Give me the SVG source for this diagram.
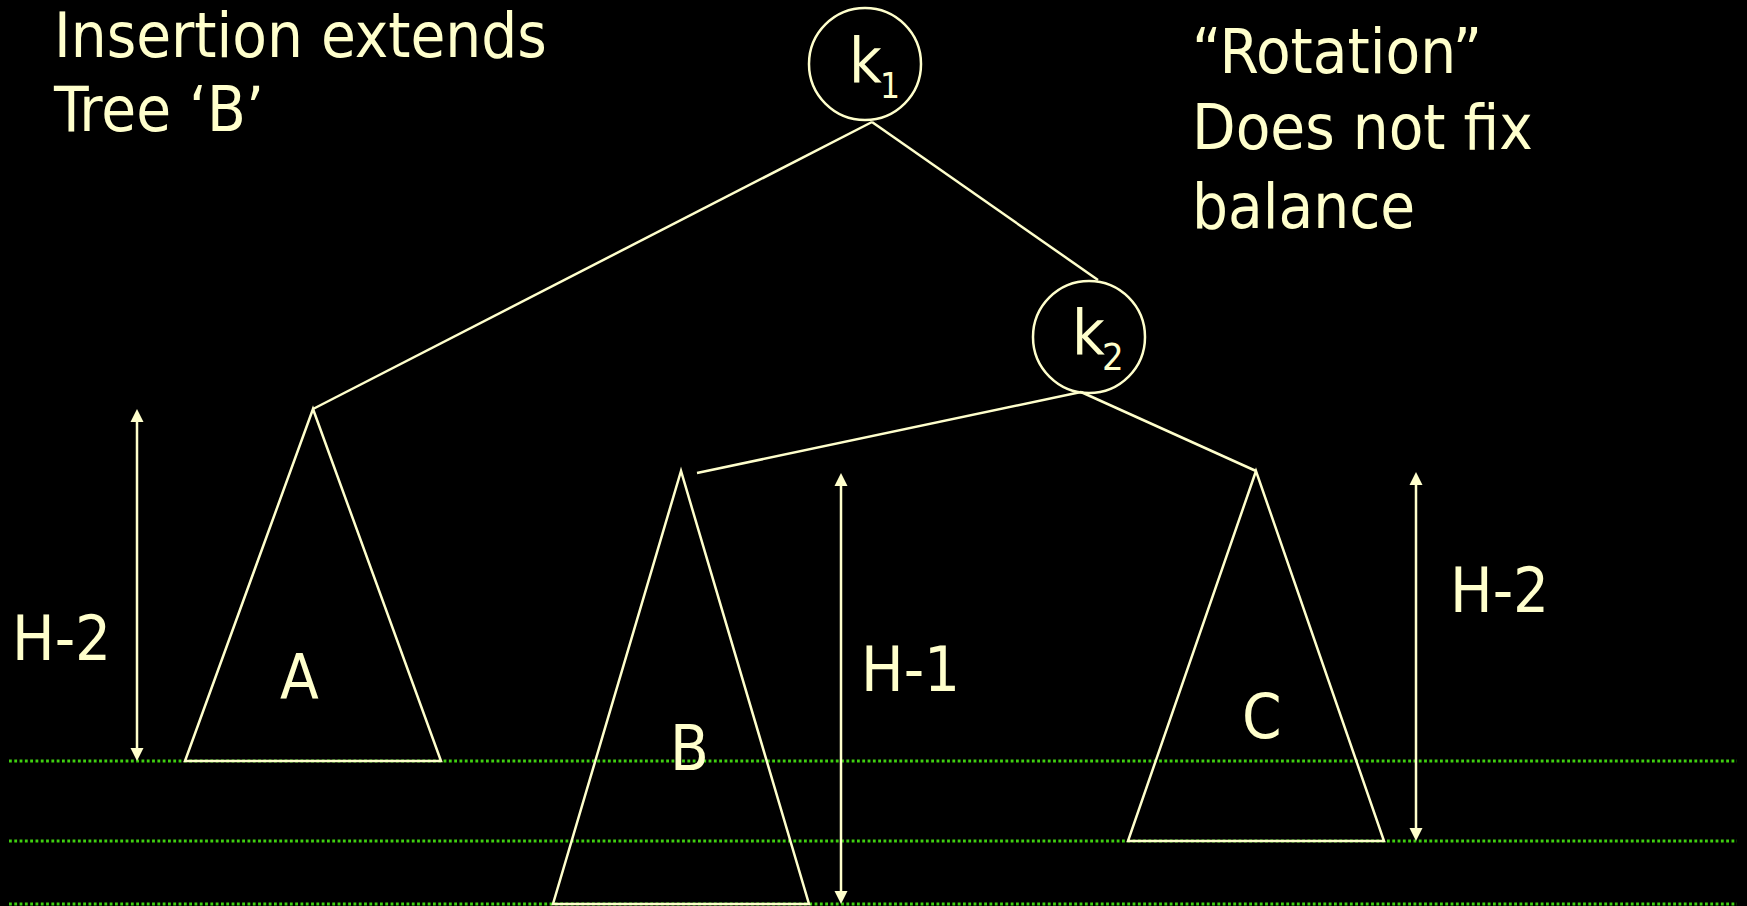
<svg xmlns="http://www.w3.org/2000/svg" width="1747" height="906" viewBox="0 0 1747 906">
<defs>
<path id="up" d="M0,0 L6.5,13 L-6.5,13 z"/>
<path id="down" d="M0,0 L6.5,-13 L-6.5,-13 z"/>
<style>
.t{font-family:"DejaVu Sans Condensed","DejaVu Sans",sans-serif;font-stretch:condensed;fill:#FFFFCC;font-size:63px}
.ln{stroke:#FFFFCC;stroke-width:2.5;fill:none}
.tri{stroke:#FFFFCC;stroke-width:2.5;fill:none;stroke-linejoin:miter}
.dot{stroke:#3FD010;stroke-width:3;stroke-dasharray:2.8 2.5}
.arr{stroke:#FFFFCC;stroke-width:2.5}
.head{fill:#FFFFCC}
</style>
</defs>
<rect width="1747" height="906" fill="#000"/>
<g id="levels">
<line class="dot" x1="9" y1="761" x2="1737" y2="761"/>
<line class="dot" x1="9" y1="841" x2="1737" y2="841"/>
<line class="dot" x1="9" y1="904" x2="1737" y2="904"/>
</g>
<g id="connectors">
<line class="ln" x1="872" y1="122" x2="313" y2="409"/>
<line class="ln" x1="872" y1="122" x2="1098" y2="280"/>
<line class="ln" x1="1081" y1="392" x2="697" y2="473"/>
<line class="ln" x1="1081" y1="392" x2="1256" y2="471"/>
</g>
<g id="k1">
<circle class="ln" cx="865" cy="64" r="56"/>
<text class="t" x="849" y="82">k</text>
<text class="t" x="880" y="98" style="font-size:35px">1</text>
</g>
<g id="k2">
<circle class="ln" cx="1089" cy="337" r="56"/>
<text class="t" x="1072" y="354">k</text>
<text class="t" x="1102" y="370" style="font-size:38px">2</text>
</g>
<g id="treeA">
<polygon class="tri" points="313,409 185,761 441,761"/>
<text class="t" x="280" y="699">A</text>
</g>
<g id="treeB">
<polygon class="tri" points="681,471 553,904 809,904"/>
<text class="t" x="670" y="770">B</text>
</g>
<g id="treeC">
<polygon class="tri" points="1256,471 1128,841 1384,841"/>
<text class="t" x="1242" y="738">C</text>
</g>
<g id="heights">
<line class="arr" x1="137" y1="418" x2="137" y2="752"/>
<use href="#up" class="head" x="137" y="409"/>
<use href="#down" class="head" x="137" y="761"/>
<text class="t" x="12" y="660">H-2</text>
<line class="arr" x1="841" y1="482" x2="841" y2="895"/>
<use href="#up" class="head" x="841" y="473"/>
<use href="#down" class="head" x="841" y="904"/>
<text class="t" x="861" y="691">H-1</text>
<line class="arr" x1="1416" y1="481" x2="1416" y2="832"/>
<use href="#up" class="head" x="1416" y="472"/>
<use href="#down" class="head" x="1416" y="841"/>
<text class="t" x="1450" y="612">H-2</text>
</g>
<g id="captions">
<text class="t" x="54" y="57">Insertion extends</text>
<text class="t" x="54" y="131">Tree ‘B’</text>
<text class="t" x="1192" y="73">“Rotation”</text>
<text class="t" x="1192" y="149">Does not fix</text>
<text class="t" x="1192" y="228">balance</text>
</g>
</svg>
